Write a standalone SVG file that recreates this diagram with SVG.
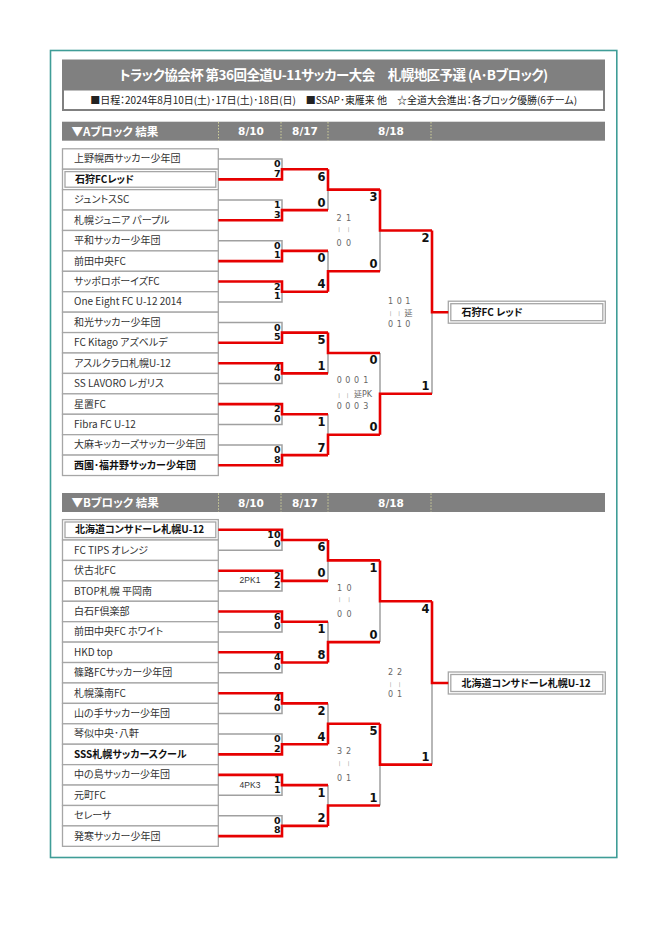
<svg xmlns="http://www.w3.org/2000/svg" width="666" height="942" viewBox="0 0 666 942">
<style>
.bg{fill:#fff}
.frame{fill:#fff;stroke:#3f9d97;stroke-width:1.6}
.bar{fill:#808080}
.sep{stroke:#cfcf9a;stroke-width:1;stroke-dasharray:1.5 1.5}
.ttl{font-family:"Noto Sans CJK JP","Noto Sans",sans-serif;font-weight:bold;font-size:13.5px;fill:#fff;font-feature-settings:"palt";text-anchor:middle}
.info{font-family:"Noto Sans CJK JP","Noto Sans",sans-serif;font-size:10px;fill:#222;font-feature-settings:"palt";text-anchor:middle}
.hd{font-family:"Noto Sans CJK JP","Noto Sans",sans-serif;font-weight:bold;font-size:11.5px;fill:#fff;font-feature-settings:"palt"}
.dt{font-family:"DejaVu Sans",sans-serif;font-weight:bold;font-size:10.5px;fill:#fff;text-anchor:middle}
.tb{fill:#fff;stroke:#a6a6a6;stroke-width:1.3}
.tn{font-family:"Noto Sans CJK JP","Noto Sans",sans-serif;font-size:10px;fill:#333;font-feature-settings:"palt"}
.b{font-weight:bold;fill:#111}
.g{fill:none;stroke:#a0a0a0;stroke-width:1.5}
.r{fill:none;stroke:#e60000;stroke-width:2.6;stroke-linejoin:miter}
.s1{font-family:"DejaVu Sans",sans-serif;font-weight:bold;font-size:9.5px;fill:#111;text-anchor:end}
.s2{font-family:"DejaVu Sans",sans-serif;font-weight:bold;font-size:11.5px;fill:#111;text-anchor:end}
.an{font-family:"DejaVu Sans","Noto Sans CJK JP",sans-serif;font-size:8px;fill:#666;text-anchor:middle}
.an2{font-family:"DejaVu Sans","Noto Sans CJK JP",sans-serif;font-size:8px;fill:#666}
.tk{font-family:"DejaVu Sans",sans-serif;font-size:5px;fill:#888;text-anchor:middle}
.pk{font-family:"Liberation Sans",sans-serif;font-size:8.5px;fill:#333;text-anchor:middle}
</style>
<rect class="bg" x="0" y="0" width="666" height="942"/>
<rect class="frame" x="50.5" y="50.5" width="566.3" height="807"/>

<g id="header">
<rect class="bar" x="62" y="59.5" width="543" height="29.5"/>
<text class="ttl" x="333.7" y="79.5" textLength="429" lengthAdjust="spacing">トラック協会杯 第36回全道U-11サッカー大会　札幌地区予選 (A･Bブロック)</text>
<rect x="63" y="89.5" width="541" height="20.5" fill="#fff" stroke="#808080" stroke-width="2"/>
<text class="info" x="333.7" y="103.5" textLength="487" lengthAdjust="spacing">■日程：2024年8月10日(土)･17日(土)･18日(日)　■SSAP･東雁来 他　☆全道大会進出：各ブロック優勝(6チーム)</text>
</g>

<g id="barA">
<rect class="bar" x="62" y="121.7" width="543" height="19"/>
<text class="hd" x="71.5" y="135.6">▼Aブロック 結果</text>
<text class="dt" x="251" y="135.3">8/10</text>
<text class="dt" x="305" y="135.3">8/17</text>
<text class="dt" x="391" y="135.3">8/18</text>
<line class="sep" x1="218.5" y1="122" x2="218.5" y2="140.5"/>
<line class="sep" x1="281" y1="122" x2="281" y2="140.5"/>
<line class="sep" x1="328" y1="122" x2="328" y2="140.5"/>
<line class="sep" x1="431" y1="122" x2="431" y2="140.5"/>
</g>

<g id="barB">
<rect class="bar" x="62" y="493" width="543" height="19"/>
<text class="hd" x="71.5" y="506.9">▼Bブロック 結果</text>
<text class="dt" x="251" y="506.6">8/10</text>
<text class="dt" x="305" y="506.6">8/17</text>
<text class="dt" x="391" y="506.6">8/18</text>
<line class="sep" x1="218.5" y1="493.3" x2="218.5" y2="511.8"/>
<line class="sep" x1="281" y1="493.3" x2="281" y2="511.8"/>
<line class="sep" x1="328" y1="493.3" x2="328" y2="511.8"/>
<line class="sep" x1="431" y1="493.3" x2="431" y2="511.8"/>
</g>

<g id="blockA" transform="translate(0,148.8)">
<g id="a-t0"><rect class="tb" x="62.5" y="0" width="155.8" height="20.42"/><text class="tn" x="74" y="13.7">上野幌西サッカー少年団</text></g>
<g id="a-t1"><rect class="tb" x="62.5" y="20.42" width="155.8" height="20.42"/><rect class="tb" x="65" y="22.82" width="150.8" height="15.6"/><text class="tn b" x="75" y="34.1">石狩FCレッド</text></g>
<g id="a-t2"><rect class="tb" x="62.5" y="40.84" width="155.8" height="20.42"/><text class="tn" x="74" y="54.6">ジュントスSC</text></g>
<g id="a-t3"><rect class="tb" x="62.5" y="61.26" width="155.8" height="20.42"/><text class="tn" x="74" y="75">札幌ジュニア パープル</text></g>
<g id="a-t4"><rect class="tb" x="62.5" y="81.68" width="155.8" height="20.42"/><text class="tn" x="74" y="95.4">平和サッカー少年団</text></g>
<g id="a-t5"><rect class="tb" x="62.5" y="102.1" width="155.8" height="20.42"/><text class="tn" x="74" y="115.8">前田中央FC</text></g>
<g id="a-t6"><rect class="tb" x="62.5" y="122.52" width="155.8" height="20.42"/><text class="tn" x="74" y="136.2">サッポロボーイズFC</text></g>
<g id="a-t7"><rect class="tb" x="62.5" y="142.94" width="155.8" height="20.42"/><text class="tn" x="74" y="156.7">One Eight FC U-12 2014</text></g>
<g id="a-t8"><rect class="tb" x="62.5" y="163.36" width="155.8" height="20.42"/><text class="tn" x="74" y="177.1">和光サッカー少年団</text></g>
<g id="a-t9"><rect class="tb" x="62.5" y="183.78" width="155.8" height="20.42"/><text class="tn" x="74" y="197.5">FC Kitago アズベルデ</text></g>
<g id="a-t10"><rect class="tb" x="62.5" y="204.2" width="155.8" height="20.42"/><text class="tn" x="74" y="217.9">アスルクラロ札幌U-12</text></g>
<g id="a-t11"><rect class="tb" x="62.5" y="224.62" width="155.8" height="20.42"/><text class="tn" x="74" y="238.3">SS LAVORO レガリス</text></g>
<g id="a-t12"><rect class="tb" x="62.5" y="245.04" width="155.8" height="20.42"/><text class="tn" x="74" y="258.8">星置FC</text></g>
<g id="a-t13"><rect class="tb" x="62.5" y="265.46" width="155.8" height="20.42"/><text class="tn" x="74" y="279.2">Fibra FC U-12</text></g>
<g id="a-t14"><rect class="tb" x="62.5" y="285.88" width="155.8" height="20.42"/><text class="tn" x="74" y="299.6">大麻キッカーズサッカー少年団</text></g>
<g id="a-t15"><rect class="tb" x="62.5" y="306.3" width="155.8" height="20.42"/><text class="tn b" x="74" y="320">西園･福井野サッカー少年団</text></g>
<g id="a-win"><rect class="tb" x="448.3" y="152.4" width="157" height="22"/><rect class="tb" x="450.8" y="154.9" width="152" height="17"/><text class="tn b" x="461.5" y="167.4">石狩FC レッド</text></g>

<g id="a-connectors">
<path class="g" d="M218.3,10.2H282V20.4 M218.3,51.1H282V61.3 M218.3,91.9H282V102.1 M218.3,153.2H282V142.9 M218.3,173.6H282V183.8 M218.3,234.8H282V224.6 M218.3,275.7H282V265.5 M218.3,296.1H282V306.3"/>
<path class="g" d="M328,61.3V40.8 M328,102.1V122.5 M328,224.6V204.2 M328,265.5V285.9 M380,122.5V81.7 M380,204.2V245 M432,245V163.4"/>
<path class="r" d="M218.3,30.6H282V20.4H328"/>
<path class="r" d="M218.3,71.5H282V61.3H328"/>
<path class="r" d="M218.3,112.3H282V102.1H328"/>
<path class="r" d="M218.3,132.7H282V142.9H328"/>
<path class="r" d="M218.3,194H282V183.8H328"/>
<path class="r" d="M218.3,214.4H282V224.6H328"/>
<path class="r" d="M218.3,255.3H282V265.5H328"/>
<path class="r" d="M218.3,316.5H282V306.3H328"/>
<path class="r" d="M328,20.4V40.8H380"/>
<path class="r" d="M328,142.9V122.5H380"/>
<path class="r" d="M328,183.8V204.2H380"/>
<path class="r" d="M328,306.3V285.9H380"/>
<path class="r" d="M380,40.8V81.7H432"/>
<path class="r" d="M380,285.9V245H432"/>
<path class="r" d="M432,81.7V163.4H448.3"/>
</g>

<g id="a-scores">
<text class="s1" x="280.5" y="18.4">0</text><text class="s1" x="280.5" y="27.9">7</text>
<text class="s1" x="280.5" y="59.3">1</text><text class="s1" x="280.5" y="68.8">3</text>
<text class="s1" x="280.5" y="100.1">0</text><text class="s1" x="280.5" y="109.6">1</text>
<text class="s1" x="280.5" y="140.9">2</text><text class="s1" x="280.5" y="150.4">1</text>
<text class="s1" x="280.5" y="181.8">0</text><text class="s1" x="280.5" y="191.3">5</text>
<text class="s1" x="280.5" y="222.6">4</text><text class="s1" x="280.5" y="232.1">0</text>
<text class="s1" x="280.5" y="263.5">2</text><text class="s1" x="280.5" y="273">0</text>
<text class="s1" x="280.5" y="304.3">0</text><text class="s1" x="280.5" y="313.8">8</text>
<text class="s2" x="325.5" y="31.9">6</text><text class="s2" x="325.5" y="57.8">0</text>
<text class="s2" x="325.5" y="113.6">0</text><text class="s2" x="325.5" y="139.4">4</text>
<text class="s2" x="325.5" y="195.3">5</text><text class="s2" x="325.5" y="221.1">1</text>
<text class="s2" x="325.5" y="277">1</text><text class="s2" x="325.5" y="302.8">7</text>
<text class="s2" x="377.5" y="52.3">3</text><text class="s2" x="377.5" y="119">0</text>
<text class="s2" x="377.5" y="215.7">0</text><text class="s2" x="377.5" y="282.4">0</text>
<text class="s2" x="429.5" y="93.2">2</text><text class="s2" x="429.5" y="241.5">1</text>
<text class="an" x="339 348.5" y="71.8">21</text>
<text class="tk" x="339 348.5" y="82.5">||</text>
<text class="an" x="339 348.5" y="97.2">00</text>
<text class="an" x="339.2 347.9 356.6 365.8" y="234.5">0001</text>
<text class="tk" x="339 347.5" y="248">||</text>
<text class="an2" x="354" y="248.6">延PK</text>
<text class="an" x="339.2 347.9 356.6 365.8" y="260.5">0003</text>
<text class="an" x="390.5 399.2 407.8" y="155.7">101</text>
<text class="tk" x="390.5 399.2" y="166.4">||</text>
<text class="an" x="408.5" y="167.7">延</text>
<text class="an" x="390.5 399.2 407.8" y="177.9">010</text>
</g>
</g>

<g id="blockB" transform="translate(0,519.6)">
<g id="b-t0"><rect class="tb" x="62.5" y="0" width="155.8" height="20.42"/><rect class="tb" x="65" y="2.4" width="150.8" height="15.6"/><text class="tn b" x="75" y="13.7">北海道コンサドーレ札幌U-12</text></g>
<g id="b-t1"><rect class="tb" x="62.5" y="20.42" width="155.8" height="20.42"/><text class="tn" x="74" y="34.1">FC TIPS オレンジ</text></g>
<g id="b-t2"><rect class="tb" x="62.5" y="40.84" width="155.8" height="20.42"/><text class="tn" x="74" y="54.6">伏古北FC</text></g>
<g id="b-t3"><rect class="tb" x="62.5" y="61.26" width="155.8" height="20.42"/><text class="tn" x="74" y="75">BTOP札幌 平岡南</text></g>
<g id="b-t4"><rect class="tb" x="62.5" y="81.68" width="155.8" height="20.42"/><text class="tn" x="74" y="95.4">白石F倶楽部</text></g>
<g id="b-t5"><rect class="tb" x="62.5" y="102.1" width="155.8" height="20.42"/><text class="tn" x="74" y="115.8">前田中央FC ホワイト</text></g>
<g id="b-t6"><rect class="tb" x="62.5" y="122.52" width="155.8" height="20.42"/><text class="tn" x="74" y="136.2">HKD top</text></g>
<g id="b-t7"><rect class="tb" x="62.5" y="142.94" width="155.8" height="20.42"/><text class="tn" x="74" y="156.7">篠路FCサッカー少年団</text></g>
<g id="b-t8"><rect class="tb" x="62.5" y="163.36" width="155.8" height="20.42"/><text class="tn" x="74" y="177.1">札幌藻南FC</text></g>
<g id="b-t9"><rect class="tb" x="62.5" y="183.78" width="155.8" height="20.42"/><text class="tn" x="74" y="197.5">山の手サッカー少年団</text></g>
<g id="b-t10"><rect class="tb" x="62.5" y="204.2" width="155.8" height="20.42"/><text class="tn" x="74" y="217.9">琴似中央･八軒</text></g>
<g id="b-t11"><rect class="tb" x="62.5" y="224.62" width="155.8" height="20.42"/><text class="tn b" x="74" y="238.3">SSS札幌サッカースクール</text></g>
<g id="b-t12"><rect class="tb" x="62.5" y="245.04" width="155.8" height="20.42"/><text class="tn" x="74" y="258.8">中の島サッカー少年団</text></g>
<g id="b-t13"><rect class="tb" x="62.5" y="265.46" width="155.8" height="20.42"/><text class="tn" x="74" y="279.2">元町FC</text></g>
<g id="b-t14"><rect class="tb" x="62.5" y="285.88" width="155.8" height="20.42"/><text class="tn" x="74" y="299.6">セレーサ</text></g>
<g id="b-t15"><rect class="tb" x="62.5" y="306.3" width="155.8" height="20.42"/><text class="tn" x="74" y="320">発寒サッカー少年団</text></g>
<g id="b-win"><rect class="tb" x="448.3" y="152.4" width="157" height="22"/><rect class="tb" x="450.8" y="154.9" width="152" height="17"/><text class="tn b" x="461.5" y="167.4">北海道コンサドーレ札幌U-12</text></g>

<g id="b-connectors">
<path class="g" d="M218.3,30.6H282V20.4 M218.3,71.5H282V61.3 M218.3,112.3H282V102.1 M218.3,153.2H282V142.9 M218.3,194H282V183.8 M218.3,214.4H282V224.6 M218.3,275.7H282V265.5 M218.3,296.1H282V306.3"/>
<path class="g" d="M328,61.3V40.8 M328,102.1V122.5 M328,183.8V204.2 M328,265.5V285.9 M380,122.5V81.7 M380,285.9V245 M432,245V163.4"/>
<path class="r" d="M218.3,10.2H282V20.4H328"/>
<path class="r" d="M218.3,51.1H282V61.3H328"/>
<path class="r" d="M218.3,91.9H282V102.1H328"/>
<path class="r" d="M218.3,132.7H282V142.9H328"/>
<path class="r" d="M218.3,173.6H282V183.8H328"/>
<path class="r" d="M218.3,234.8H282V224.6H328"/>
<path class="r" d="M218.3,255.3H282V265.5H328"/>
<path class="r" d="M218.3,316.5H282V306.3H328"/>
<path class="r" d="M328,20.4V40.8H380"/>
<path class="r" d="M328,142.9V122.5H380"/>
<path class="r" d="M328,224.6V204.2H380"/>
<path class="r" d="M328,306.3V285.9H380"/>
<path class="r" d="M380,40.8V81.7H432"/>
<path class="r" d="M380,204.2V245H432"/>
<path class="r" d="M432,81.7V163.4H448.3"/>
</g>

<g id="b-scores">
<text class="s1" x="280.5" y="18.4">10</text><text class="s1" x="280.5" y="27.9">0</text>
<text class="s1" x="280.5" y="59.3">2</text><text class="s1" x="280.5" y="68.8">2</text>
<text class="s1" x="280.5" y="100.1">6</text><text class="s1" x="280.5" y="109.6">0</text>
<text class="s1" x="280.5" y="140.9">4</text><text class="s1" x="280.5" y="150.4">0</text>
<text class="s1" x="280.5" y="181.8">4</text><text class="s1" x="280.5" y="191.3">0</text>
<text class="s1" x="280.5" y="222.6">0</text><text class="s1" x="280.5" y="232.1">2</text>
<text class="s1" x="280.5" y="263.5">1</text><text class="s1" x="280.5" y="273">1</text>
<text class="s1" x="280.5" y="304.3">0</text><text class="s1" x="280.5" y="313.8">8</text>
<text class="pk" x="250" y="63.8">2PK1</text>
<text class="pk" x="250" y="268">4PK3</text>
<text class="s2" x="325.5" y="31.9">6</text><text class="s2" x="325.5" y="57.8">0</text>
<text class="s2" x="325.5" y="113.6">1</text><text class="s2" x="325.5" y="139.4">8</text>
<text class="s2" x="325.5" y="195.3">2</text><text class="s2" x="325.5" y="221.1">4</text>
<text class="s2" x="325.5" y="277">1</text><text class="s2" x="325.5" y="302.8">2</text>
<text class="s2" x="377.5" y="52.3">1</text><text class="s2" x="377.5" y="119">0</text>
<text class="s2" x="377.5" y="215.7">5</text><text class="s2" x="377.5" y="282.4">1</text>
<text class="s2" x="429.5" y="93.2">4</text><text class="s2" x="429.5" y="241.5">1</text>
<text class="an" x="339.5 349" y="71.2">10</text>
<text class="tk" x="339.5 349" y="81.5">||</text>
<text class="an" x="339.5 349" y="97.1">00</text>
<text class="an" x="339.5 348.5" y="234.4">32</text>
<text class="tk" x="339.5 348.5" y="245.8">||</text>
<text class="an" x="339.5 348.5" y="261.1">01</text>
<text class="an" x="390.5 399.5" y="155.4">22</text>
<text class="tk" x="390.5 399.5" y="166">||</text>
<text class="an" x="390.5 399.5" y="177.4">01</text>
</g>
</g>
</svg>
